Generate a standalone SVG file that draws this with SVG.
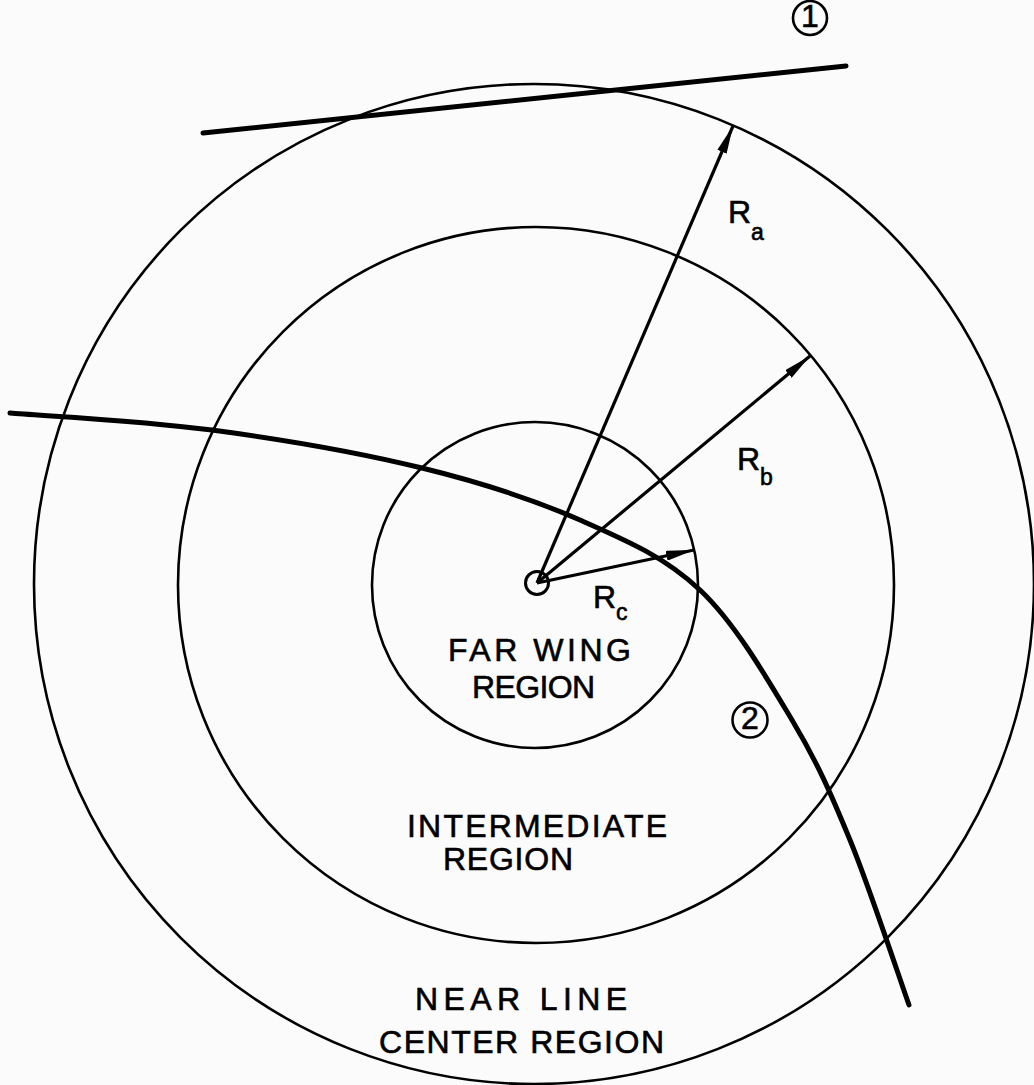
<svg xmlns="http://www.w3.org/2000/svg" width="1034" height="1085" viewBox="0 0 1034 1085">
<style>
.ring{fill:none;stroke:#000;stroke-width:2.6}
.lbl{font-family:"Liberation Sans",Arial,sans-serif;fill:#000;stroke:#000;stroke-width:0.6;font-size:32px}
.arr{fill:none;stroke:#000;stroke-width:3.2;marker-end:url(#ah)}
.heavy{fill:none;stroke:#000;stroke-width:5;stroke-linecap:round}
</style>
<defs>
<marker id="ah" markerUnits="userSpaceOnUse" markerWidth="28" markerHeight="10" refX="28" refY="5" orient="auto" viewBox="0 0 28 10">
<path d="M0,0 L28,5 L0,10 z" fill="#000"/>
</marker>
</defs>
<rect width="1034" height="1085" fill="#fbfbfb"/>
<g id="near-line-center-region">
<circle class="ring" cx="534" cy="584" r="500"/>
<text class="lbl" x="415" y="1010" font-size="35" textLength="212" lengthAdjust="spacing">NEAR LINE</text>
<text class="lbl" x="379" y="1053" font-size="34" textLength="285" lengthAdjust="spacing">CENTER REGION</text>
</g>
<g id="intermediate-region">
<circle class="ring" cx="536" cy="585" r="358"/>
<text class="lbl" x="407" y="837" font-size="34" textLength="260" lengthAdjust="spacing">INTERMEDIATE</text>
<text class="lbl" x="443" y="870" font-size="31" textLength="130" lengthAdjust="spacing">REGION</text>
</g>
<g id="far-wing-region">
<circle class="ring" cx="535" cy="585" r="163"/>
<text class="lbl" x="448" y="661" font-size="31" textLength="183" lengthAdjust="spacing">FAR WING</text>
<text class="lbl" x="472" y="698" font-size="32" textLength="123" lengthAdjust="spacing">REGION</text>
</g>
<g id="line-center">
<circle cx="537" cy="583" r="11.5" fill="none" stroke="#000" stroke-width="3"/>
</g>
<g id="marker-1">
<circle cx="810" cy="18" r="17" fill="none" stroke="#000" stroke-width="2.6"/>
<text class="lbl" x="810" y="27" font-size="25" text-anchor="middle">1</text>
</g>
<g id="marker-2">
<circle cx="750" cy="720" r="17.5" fill="none" stroke="#000" stroke-width="2.6"/>
<text class="lbl" x="750" y="729" font-size="25" text-anchor="middle">2</text>
</g>
<g id="connectors">
<line id="path-1" class="heavy" x1="203" y1="133" x2="846" y2="66"/>
<path id="path-2" class="heavy" d="M10,413 C43.7,415.8 143.3,420.8 212,430 C280.7,439.2 360.7,453 422,468 C483.3,483 533.7,499.7 580,520 C626.3,540.3 664.7,556.7 700,590 C735.3,623.3 767,678.3 792,720 C817,761.7 830.5,792.5 850,840 C869.5,887.5 899.2,977.5 909,1005"/>
<line id="Ra" class="arr" x1="537" y1="583" x2="733" y2="126"/>
<line id="Rb" class="arr" x1="537" y1="583" x2="810" y2="356"/>
<line id="Rc" class="arr" x1="537" y1="583" x2="694" y2="550"/>
</g>
<g id="radius-labels">
<text class="lbl" x="728" y="223" font-size="29">R<tspan font-size="23" dy="17">a</tspan></text>
<text class="lbl" x="737" y="470" font-size="29">R<tspan font-size="23" dy="15">b</tspan></text>
<text class="lbl" x="593" y="608" font-size="29">R<tspan font-size="23" dy="12">c</tspan></text>
</g>
</svg>
